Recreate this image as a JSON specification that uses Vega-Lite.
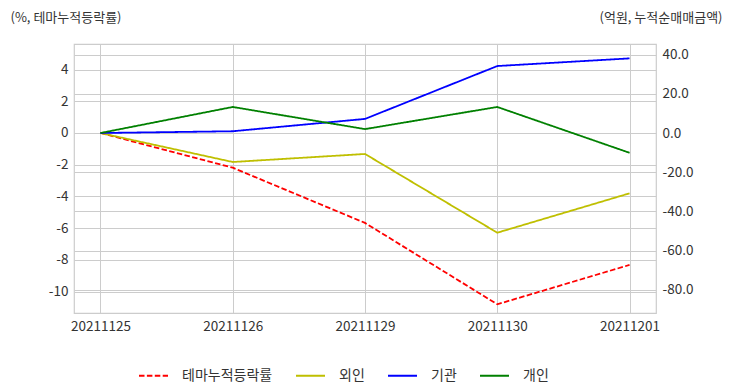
{
  "$schema": "https://vega.github.io/schema/vega-lite/v6.json",
  "width": 582,
  "height": 269,
  "autosize": {"type": "none"},
  "padding": {"left": 74, "top": 44, "right": 76, "bottom": 79},
  "background": "white",
  "config": {
    "font": "Noto Sans CJK KR",
    "view": {"stroke": "#cccccc", "strokeWidth": 1.2},
    "axis": {
      "domain": false,
      "ticks": false,
      "labelPadding": 6,
      "labelFontSize": 13.5,
      "labelColor": "#333333",
      "labelExpr": "replace(datum.label, '\u2212', '-')",
      "gridColor": "#cccccc",
      "gridWidth": 1,
      "titleFontSize": 13,
      "titleFontWeight": "normal",
      "titleColor": "#333333"
    },
    "legend": {
      "labelFontSize": 14,
      "labelColor": "#333333"
    }
  },
  "data": {
    "values": [
      {"date": "20211125", "series": "테마누적등락률", "value": 0},
      {"date": "20211126", "series": "테마누적등락률", "value": -2.19},
      {"date": "20211129", "series": "테마누적등락률", "value": -5.67},
      {"date": "20211130", "series": "테마누적등락률", "value": -10.8},
      {"date": "20211201", "series": "테마누적등락률", "value": -8.32},
      {"date": "20211125", "series": "외인", "value": 0},
      {"date": "20211126", "series": "외인", "value": -14.8},
      {"date": "20211129", "series": "외인", "value": -10.7},
      {"date": "20211130", "series": "외인", "value": -50.9},
      {"date": "20211201", "series": "외인", "value": -30.8},
      {"date": "20211125", "series": "기관", "value": 0},
      {"date": "20211126", "series": "기관", "value": 0.9},
      {"date": "20211129", "series": "기관", "value": 7.2},
      {"date": "20211130", "series": "기관", "value": 34.2},
      {"date": "20211201", "series": "기관", "value": 38.1},
      {"date": "20211125", "series": "개인", "value": 0},
      {"date": "20211126", "series": "개인", "value": 13.3},
      {"date": "20211129", "series": "개인", "value": 2.0},
      {"date": "20211130", "series": "개인", "value": 13.3},
      {"date": "20211201", "series": "개인", "value": -10.1}
    ]
  },
  "encoding": {
    "x": {
      "field": "date",
      "type": "ordinal",
      "sort": null,
      "scale": {"type": "point", "padding": 0.2},
      "axis": {"title": null, "grid": true, "labelAngle": 0}
    },
    "color": {
      "field": "series",
      "type": "nominal",
      "scale": {
        "domain": ["테마누적등락률", "외인", "기관", "개인"],
        "range": ["#ff0000", "#bfbf00", "#0000ff", "#008000"]
      },
      "legend": {
        "title": null,
        "orient": "none",
        "direction": "horizontal",
        "legendX": 64,
        "legendY": 316,
        "symbolType": "stroke",
        "symbolSize": 841,
        "symbolStrokeWidth": 2,
        "labelOffset": 13,
        "columnPadding": 19
      }
    },
    "strokeDash": {
      "field": "series",
      "type": "nominal",
      "scale": {
        "domain": ["테마누적등락률", "외인", "기관", "개인"],
        "range": [[5.5, 2.4], [1, 0], [1, 0], [1, 0]]
      },
      "legend": {
        "title": null,
        "orient": "none",
        "direction": "horizontal",
        "legendX": 64,
        "legendY": 316,
        "symbolType": "stroke",
        "symbolSize": 841,
        "symbolStrokeWidth": 2,
        "labelOffset": 13,
        "columnPadding": 19
      }
    }
  },
  "layer": [
    {
      "transform": [{"filter": "datum.series === '테마누적등락률'"}],
      "mark": {"type": "line", "strokeWidth": 1.8},
      "encoding": {
        "y": {
          "field": "value",
          "type": "quantitative",
          "scale": {"domain": [-11.35, 5.61], "nice": false, "zero": false},
          "axis": {
            "values": [-10, -8, -6, -4, -2, 0, 2, 4],
            "grid": true,
            "title": "(%, 테마누적등락률)",
            "titleAngle": 0,
            "titleAlign": "left",
            "titleBaseline": "alphabetic",
            "titleX": -64,
            "titleY": -23
          }
        }
      }
    },
    {
      "transform": [{"filter": "datum.series !== '테마누적등락률'"}],
      "mark": {"type": "line", "strokeWidth": 1.8},
      "encoding": {
        "y": {
          "field": "value",
          "type": "quantitative",
          "scale": {"domain": [-91.9, 45.45], "nice": false, "zero": false},
          "axis": {
            "orient": "right",
            "values": [-80, -60, -40, -20, 0, 20, 40],
            "format": ".1f",
            "grid": true,
            "title": "(억원, 누적순매매금액)",
            "titleAngle": 0,
            "titleAlign": "right",
            "titleBaseline": "alphabetic",
            "titleX": 66,
            "titleY": -23
          }
        }
      }
    }
  ],
  "resolve": {"scale": {"y": "independent"}}
}
